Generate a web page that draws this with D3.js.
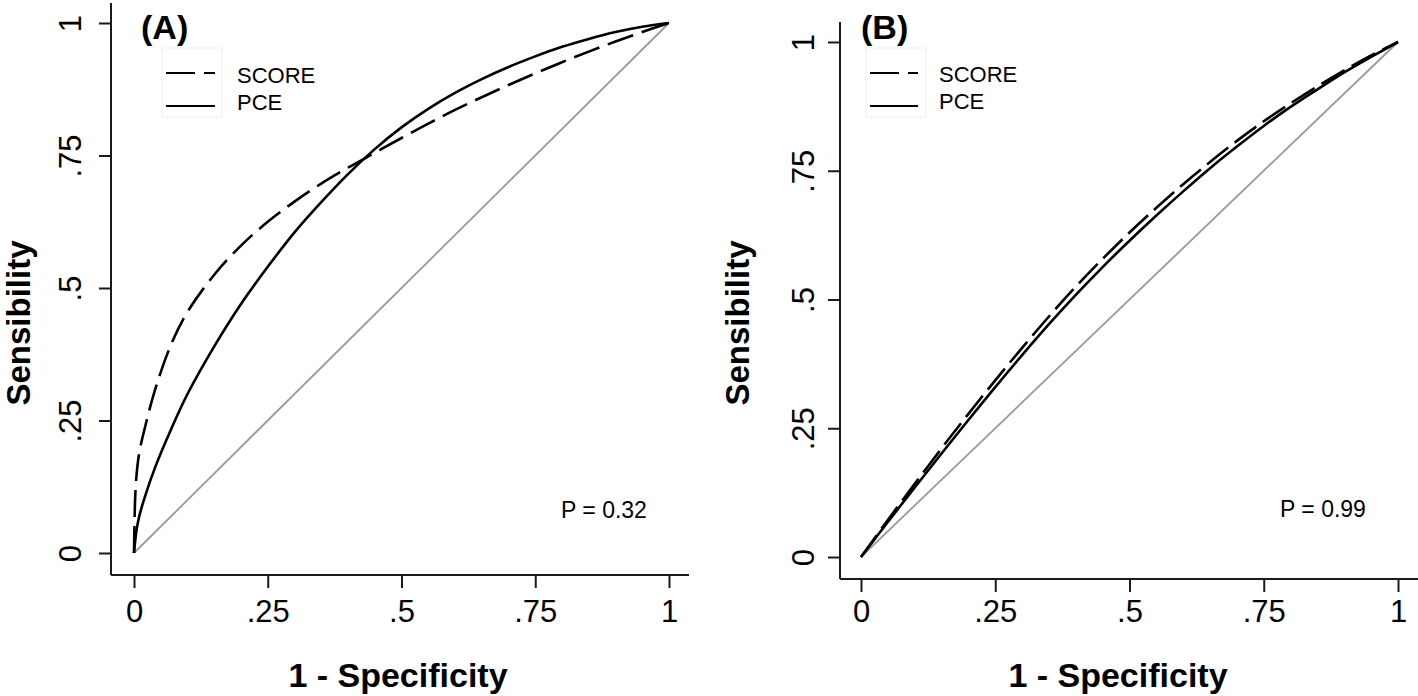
<!DOCTYPE html>
<html>
<head>
<meta charset="utf-8">
<script src="https://cdn.jsdelivr.net/npm/d3@7"></script>
<style>
  html, body { margin: 0; padding: 0; background: #fff; }
  svg { display: block; }
  text { font-family: "Liberation Sans", Arial, Helvetica, sans-serif; fill: #000; }
</style>
</head>
<body>
<svg id="chart" width="1418" height="696"></svg>
<script>
// ---------- data ----------
const tickValues = [0, 0.25, 0.5, 0.75, 1];
const tickLabels = ["0", ".25", ".5", ".75", "1"];
const seriesNames = ["SCORE", "PCE"];
const panelLabels = ["(A)", "(B)"];
const pValues = ["P = 0.32", "P = 0.99"];
const xTitle = "1 - Specificity";
const yTitle = "Sensibility";

// Panel A
const fprA_pce   = [0, .005, .01, .02, .04, .07, .10, .15, .20, .25, .30, .35, .40, .45, .50, .55, .60, .65, .70, .75, .80, .85, .90, .95, 1];
const tprA_pce   = [0, .045, .070, .105, .163, .235, .300, .390, .470, .540, .605, .662, .715, .762, .803, .838, .868, .894, .917, .937, .955, .970, .983, .993, 1];
const fprA_score = [0, .002, .005, .01, .02, .04, .07, .10, .15, .20, .25, .30, .35, .40, .45, .50, .55, .60, .65, .70, .75, .80, .85, .90, .95, 1];
const tprA_score = [0, .100, .150, .190, .235, .310, .395, .455, .525, .580, .625, .663, .697, .727, .755, .783, .810, .836, .860, .883, .905, .926, .946, .965, .983, 1];

// Panel B
const fprB_pce   = [0, .05, .10, .15, .20, .25, .30, .35, .40, .45, .50, .55, .60, .65, .70, .75, .80, .85, .90, .95, 1];
const tprB_pce   = [0, .068, .135, .201, .266, .330, .392, .452, .509, .563, .614, .663, .710, .755, .797, .837, .874, .908, .941, .971, 1];
const fprB_score = [0, .05, .10, .15, .20, .25, .30, .35, .40, .45, .50, .55, .60, .65, .70, .75, .80, .85, .90, .95, 1];
const tprB_score = [0, .072, .142, .211, .278, .343, .406, .467, .525, .579, .630, .678, .724, .767, .808, .846, .881, .914, .945, .974, 1];

const refLine = [0, 1];

// ---------- layout ----------
const panels = [
  {
    label: panelLabels[0], p: pValues[0],
    xr: [134, 669], yr: [553, 23],
    axisX: 111, axisYTop: 3, axisY: 575, axisXRight: 689,
    yLabelX: 70, yTitleX: 30, xTitleX: 398,
    labelPos: [141, 39], pPos: [561, 518],
    legend: { box: [162, 48, 60, 69], line: [166, 215], ly: [73, 106], tx: 237, ty: [83, 110] },
    dash: "27,9",
    score: [fprA_score, tprA_score], pce: [fprA_pce, tprA_pce]
  },
  {
    label: panelLabels[1], p: pValues[1],
    xr: [861, 1398], yr: [557, 42],
    axisX: 840, axisYTop: 22, axisY: 579, axisXRight: 1418,
    yLabelX: 803, yTitleX: 749, xTitleX: 1118,
    labelPos: [861, 39], pPos: [1280, 517],
    legend: { box: [866, 48, 60, 69], line: [870, 918], ly: [73, 106], tx: 939, ty: [82, 109] },
    dash: "27,8",
    score: [fprB_score, tprB_score], pce: [fprB_pce, tprB_pce]
  }
];

const svg = d3.select("#chart");
const fmt = d => tickLabels[tickValues.indexOf(d)];

panels.forEach(P => {
  const g = svg.append("g");
  const x = d3.scaleLinear().domain([0, 1]).range(P.xr);
  const y = d3.scaleLinear().domain([0, 1]).range(P.yr);

  // axis lines
  g.append("line").attr("x1", P.axisX).attr("x2", P.axisX)
    .attr("y1", P.axisYTop).attr("y2", P.axisY)
    .attr("stroke", "#1a1a1a").attr("stroke-width", 2);
  g.append("line").attr("x1", P.axisX).attr("x2", P.axisXRight)
    .attr("y1", P.axisY).attr("y2", P.axisY)
    .attr("stroke", "#1a1a1a").attr("stroke-width", 2);

  // y axis
  const ya = g.append("g").attr("transform", `translate(${P.axisX},0)`)
    .call(d3.axisLeft(y).tickValues(tickValues).tickFormat(fmt).tickSize(12).tickPadding(0));
  ya.select(".domain").remove();
  ya.selectAll(".tick line").attr("stroke", "#1a1a1a").attr("stroke-width", 2);
  ya.selectAll(".tick text")
    .attr("x", null).attr("dy", null)
    .attr("text-anchor", "middle")
    .attr("transform", `translate(${P.yLabelX - P.axisX},0) rotate(-90) translate(0,11)`)
    .style("font-size", "31px").style("font-family", '"Liberation Sans", Arial, sans-serif').attr("fill", "#000");

  // x axis
  const xa = g.append("g").attr("transform", `translate(0,${P.axisY})`)
    .call(d3.axisBottom(x).tickValues(tickValues).tickFormat(fmt).tickSize(13).tickPadding(0));
  xa.select(".domain").remove();
  xa.selectAll(".tick line").attr("stroke", "#1a1a1a").attr("stroke-width", 2);
  xa.selectAll(".tick text")
    .attr("y", 622 - P.axisY).attr("dy", null)
    .style("font-size", "31px").style("font-family", '"Liberation Sans", Arial, sans-serif').attr("fill", "#000");

  // reference diagonal
  g.append("path").datum(refLine.map(v => [v, v]))
    .attr("d", d3.line().x(d => x(d[0])).y(d => y(d[1])))
    .attr("fill", "none").attr("stroke", "#9a9a9a").attr("stroke-width", 1.8);

  const line = d3.line().x(d => x(d[0])).y(d => y(d[1])).curve(d3.curveCatmullRom.alpha(0.5));

  // PCE (solid)
  g.append("path").datum(P.pce[0].map((v, i) => [v, P.pce[1][i]]))
    .attr("d", line).attr("fill", "none").attr("stroke", "#000").attr("stroke-width", 2.6);
  // SCORE (dashed)
  g.append("path").datum(P.score[0].map((v, i) => [v, P.score[1][i]]))
    .attr("d", line).attr("fill", "none").attr("stroke", "#000").attr("stroke-width", 2.6)
    .attr("stroke-dasharray", P.dash);

  // panel label
  g.append("text").attr("x", P.labelPos[0]).attr("y", P.labelPos[1])
    .style("font-size", "34px").style("font-weight", "bold").text(P.label);

  // legend
  const L = P.legend;
  g.append("rect").attr("x", L.box[0]).attr("y", L.box[1]).attr("width", L.box[2]).attr("height", L.box[3])
    .attr("fill", "none").attr("stroke", "#efefef").attr("stroke-width", 1);
  g.append("line").attr("x1", L.line[0]).attr("x2", L.line[1]).attr("y1", L.ly[0]).attr("y2", L.ly[0])
    .attr("stroke", "#000").attr("stroke-width", 2).attr("stroke-dasharray", "29,9");
  g.append("line").attr("x1", L.line[0]).attr("x2", L.line[1]).attr("y1", L.ly[1]).attr("y2", L.ly[1])
    .attr("stroke", "#000").attr("stroke-width", 2);
  g.append("text").attr("x", L.tx).attr("y", L.ty[0]).style("font-size", "22px").text(seriesNames[0]);
  g.append("text").attr("x", L.tx).attr("y", L.ty[1]).style("font-size", "22px").text(seriesNames[1]);

  // p value
  g.append("text").attr("x", P.pPos[0]).attr("y", P.pPos[1]).style("font-size", "23px").text(P.p);

  // axis titles
  g.append("text").attr("x", P.xTitleX).attr("y", 687).attr("text-anchor", "middle")
    .style("font-size", "34px").style("font-weight", "bold").text(xTitle);
  g.append("text").attr("transform", `translate(${P.yTitleX},323) rotate(-90)`).attr("text-anchor", "middle")
    .style("font-size", "33px").style("font-weight", "bold").text(yTitle);
});
</script>
</body>
</html>
